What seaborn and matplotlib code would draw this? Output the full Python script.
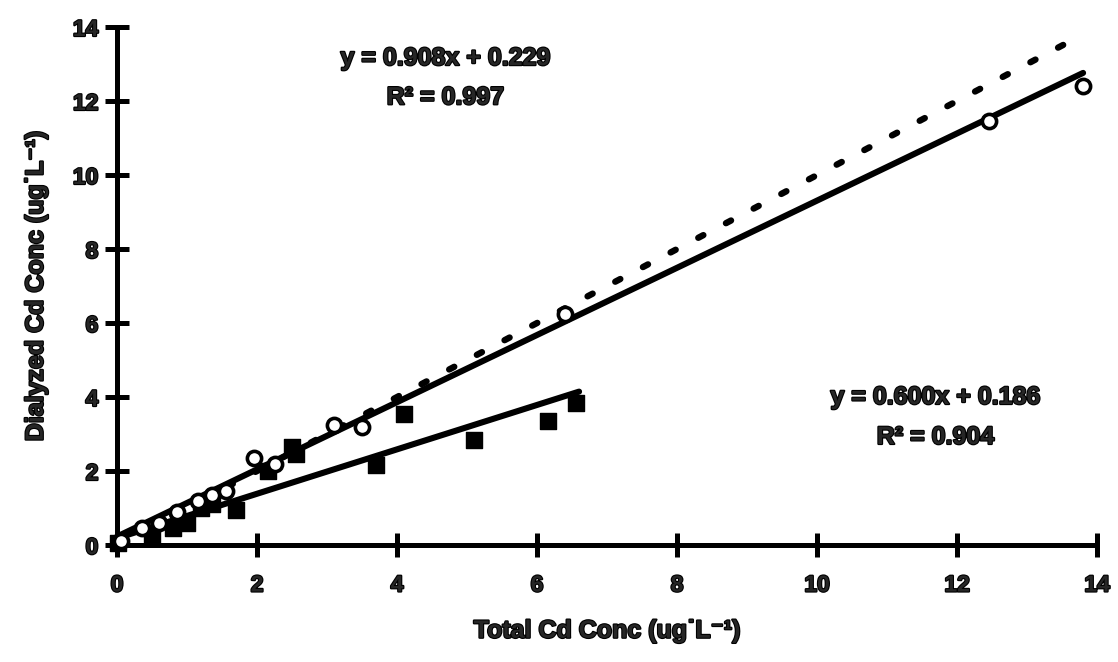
import matplotlib
matplotlib.use("Agg")
import matplotlib.pyplot as plt
import matplotlib.patheffects as pe
import pandas as pd
import seaborn as sns

# Sample group A (open circles): total vs dialyzed Cd, ug/L
circle_total = [0.05, 0.35, 0.6, 0.85, 1.15, 1.35, 1.55, 1.95, 2.25, 3.1, 3.5, 6.4, 12.45, 13.8]
circle_dialyzed = [0.1, 0.45, 0.6, 0.88, 1.2, 1.35, 1.45, 2.35, 2.2, 3.25, 3.2, 6.25, 11.45, 12.4]

# Sample group B (filled squares)
square_total = [0.02, 0.5, 0.8, 1.0, 1.2, 1.35, 1.7, 2.15, 2.5, 2.55, 3.7, 4.1, 5.1, 6.15, 6.55]
square_dialyzed = [0.05, 0.25, 0.45, 0.6, 1.0, 1.1, 0.95, 2.0, 2.65, 2.45, 2.15, 3.55, 2.85, 3.35, 3.85]

# Linear fits (group A, group B)
fit_slopes = [0.908, 0.600]
fit_intercepts = [0.229, 0.186]
fit_r2 = [0.997, 0.904]
fit_x_end = [13.8, 6.6]

# 1:1 reference line
one_to_one = [0.0, 13.7]

x_ticks = [0, 2, 4, 6, 8, 10, 12, 14]
y_ticks = [0, 2, 4, 6, 8, 10, 12, 14]

sns.set_style("white")
plt.rcParams["font.family"] = ["Liberation Sans", "DejaVu Sans"]
plt.rcParams["font.weight"] = "bold"

# heavy lettering: bold glyphs with a thin outline of the same colour
heavy = [pe.withStroke(linewidth=1.6, foreground="black")]

fig = plt.figure(figsize=(11.18, 6.62), dpi=100)
ax = fig.add_axes([0.1047, 0.1767, 0.8766, 0.7825])

# 1:1 dashed line
sns.lineplot(x=one_to_one, y=one_to_one, ax=ax, color="black", lw=4.6,
             linestyle=(0, (0.9, 4.0)), dash_capstyle="round", zorder=2)

# fitted lines
for m, b, xe in zip(fit_slopes, fit_intercepts, fit_x_end):
    xs = [0.0, xe]
    ys = [b + m * v for v in xs]
    sns.lineplot(x=xs, y=ys, ax=ax, color="black", lw=4.4,
                 solid_capstyle="round", zorder=3)

sns.scatterplot(x=square_total, y=square_dialyzed, ax=ax, marker="s",
                s=120, color="black", edgecolor="black", linewidth=1,
                zorder=4, clip_on=False)
sns.scatterplot(x=circle_total, y=circle_dialyzed, ax=ax, marker="o",
                s=105, facecolor="white", edgecolor="black", linewidth=2.6,
                zorder=5, clip_on=False)

for ln in ax.lines:
    ln.set_clip_on(False)

ax.set_xlim(0, 14)
ax.set_ylim(0, 14)
ax.set_xticks(x_ticks)
ax.set_yticks(y_ticks)
ax.set_xticklabels([str(t) for t in x_ticks], fontsize=16.5, fontweight="bold")
ax.set_yticklabels([str(t) for t in y_ticks], fontsize=16.5, fontweight="bold")
for lab in ax.get_xticklabels() + ax.get_yticklabels():
    lab.set_path_effects(heavy)

for side in ("top", "right"):
    ax.spines[side].set_visible(False)
for side in ("left", "bottom"):
    ax.spines[side].set_linewidth(3.6)
    ax.spines[side].set_color("black")

ax.tick_params(axis="both", which="major", bottom=True, left=True,
               direction="inout", length=17, width=3.6, color="black")
ax.tick_params(axis="x", pad=12)
ax.tick_params(axis="y", pad=5)

ax.set_xlabel("Total Cd Conc (ug\u02d9L\u207b\u00b9)", fontsize=18,
              fontweight="bold", labelpad=16, path_effects=heavy)
ax.set_ylabel("Dialyzed Cd Conc (ug\u02d9L\u207b\u00b9)", fontsize=18,
              fontweight="bold", labelpad=18, path_effects=heavy)

ann = dict(ha="center", va="center", fontsize=18, fontweight="bold",
           path_effects=heavy)
ax.text(4.69, 13.16, f"y = {fit_slopes[0]:.3f}x + {fit_intercepts[0]:.3f}", **ann)
ax.text(4.69, 12.1, f"R\u00b2 = {fit_r2[0]:.3f}", **ann)
ax.text(11.69, 4.0, f"y = {fit_slopes[1]:.3f}x + {fit_intercepts[1]:.3f}", **ann)
ax.text(11.69, 2.92, f"R\u00b2 = {fit_r2[1]:.3f}", **ann)

fig.savefig("out.png", dpi=100, facecolor="white")
